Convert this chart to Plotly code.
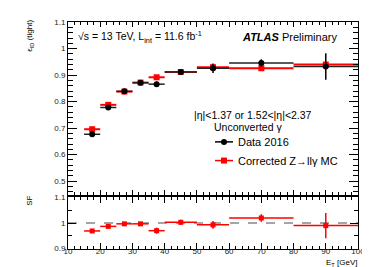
import plotly.graph_objects as go

# ---- data ----
bin_lo = [15, 20, 25, 30, 35, 40, 50, 60, 80]
bin_hi = [20, 25, 30, 35, 40, 50, 60, 80, 100]
eff_data = [0.677, 0.778, 0.839, 0.871, 0.866, 0.912, 0.926, 0.946, 0.933]
eff_data_err = [0.005, 0.005, 0.004, 0.004, 0.010, 0.006, 0.018, 0.014, 0.050]
eff_mc = [0.696, 0.788, 0.838, 0.872, 0.892, 0.912, 0.930, 0.926, 0.940]
eff_mc_err = [0.003, 0.003, 0.003, 0.003, 0.004, 0.004, 0.006, 0.006, 0.010]
sf = [0.969, 0.987, 0.997, 0.997, 0.970, 1.003, 0.993, 1.020, 0.990]
sf_err = [0.004, 0.004, 0.004, 0.007, 0.012, 0.010, 0.015, 0.015, 0.050]
x_range = [10, 100]
legend_names = ["Data 2016", "Corrected Z\u2192ll\u03b3 MC"]

centers = [(a + b) / 2 for a, b in zip(bin_lo, bin_hi)]
half_w = [(b - a) / 2 for a, b in zip(bin_lo, bin_hi)]

RED = "#ff0000"
FONT = "Liberation Sans"

fig = go.Figure()

# MC (drawn first)
fig.add_trace(go.Scatter(
    x=centers, y=eff_mc, mode="markers", showlegend=False,
    marker=dict(symbol="square", color=RED, size=6),
    error_x=dict(type="data", array=half_w, color=RED, thickness=2, width=0),
    error_y=dict(type="data", array=eff_mc_err, color=RED, thickness=2, width=0),
    xaxis="x", yaxis="y"))
# Data
fig.add_trace(go.Scatter(
    x=centers, y=eff_data, mode="markers", showlegend=False,
    marker=dict(symbol="circle", color="black", size=6),
    error_x=dict(type="data", array=half_w, color="#222222", thickness=1.5, width=0),
    error_y=dict(type="data", array=eff_data_err, color="black", thickness=1.5, width=0),
    xaxis="x", yaxis="y"))
# SF
fig.add_trace(go.Scatter(
    x=centers, y=sf, mode="markers", showlegend=False,
    marker=dict(symbol="square", color=RED, size=5),
    error_x=dict(type="data", array=half_w, color=RED, thickness=1.5, width=0),
    error_y=dict(type="data", array=sf_err, color=RED, thickness=1.5, width=0),
    xaxis="x2", yaxis="y2"))

fig.add_shape(type="line", xref="x2", yref="y2", x0=x_range[0], x1=x_range[1], y0=1, y1=1,
              line=dict(color="#888888", width=1.5, dash="dash"), layer="below")

# ---- manual legend (paper coords) ----
L_PX, T_PX, W_PX, H_PX = 60, 10, 290, 231
def px(xp):
    return (xp - L_PX) / W_PX
def py(yp):
    return (T_PX + H_PX - yp) / H_PX

leg_rows = [132, 151]
leg_colors = ["black", RED]
leg_syms = ["circle", "rect"]
for row, col, sym, name in zip(leg_rows, leg_colors, leg_syms, legend_names):
    fig.add_shape(type="line", xref="paper", yref="paper", x0=px(207), x1=px(225), y0=py(row), y1=py(row),
                  line=dict(color=col, width=1.5))
    fig.add_shape(type=sym, xref="paper", yref="paper", xsizemode="pixel", ysizemode="pixel",
                  xanchor=px(216), yanchor=py(row), x0=-3, x1=3, y0=-3, y1=3,
                  line=dict(color=col, width=0), fillcolor=col)
    fig.add_annotation(text=name, xref="paper", yref="paper", x=px(228), y=py(row),
                       xanchor="left", yanchor="middle", showarrow=False,
                       font=dict(family=FONT, size=11, color="black"))

axis_common = dict(showline=True, linecolor="black", linewidth=1, mirror="ticks",
                   ticks="inside", tickcolor="black", showgrid=False, zeroline=False,
                   tickfont=dict(family=FONT, size=8, color="#222"))

fig.update_layout(
    width=370, height=267,
    margin=dict(l=60, r=20, t=10, b=26),
    paper_bgcolor="white", plot_bgcolor="white",
    font=dict(family=FONT, color="black"),
    showlegend=False,
    xaxis=dict(domain=[0, 1], range=x_range, anchor="y", matches="x2", showticklabels=False,
               dtick=10, ticklen=5, minor=dict(dtick=2, ticklen=3, ticks="inside", tickcolor="black"),
               **axis_common),
    yaxis=dict(domain=[0.238, 1], range=[0.448, 1.1005], anchor="x", ticklen=9,
               tickvals=[0.5, 0.6, 0.7, 0.8, 0.9, 1.0, 1.1], ticktext=["0.5", "0.6", "0.7", "0.8", "0.9", "1", "1.1"],
               minor=dict(dtick=0.02, ticklen=5, ticks="inside", tickcolor="black"),
               **axis_common),
    xaxis2=dict(domain=[0, 1], range=x_range, anchor="y2", dtick=10, ticklen=6,
                ticklabelstandoff=-6,
                minor=dict(dtick=2, ticklen=3, ticks="inside", tickcolor="black"),
                **axis_common),
    yaxis2=dict(domain=[0, 0.229], range=[0.898, 1.1025], anchor="x2", ticklen=8,
                tickvals=[0.9, 1.0, 1.1], ticktext=["0.9", "1", "1.1"],
                minor=dict(dtick=0.05, ticklen=4, ticks="inside", tickcolor="black"),
                **axis_common),
)

ann = dict(showarrow=False, xref="paper", yref="paper")
fig.add_annotation(text="\u221as = 13 TeV, L<sub>int</sub> = 11.6 fb<sup>-1</sup>",
                   x=px(68), y=py(25), xanchor="left", yanchor="middle",
                   font=dict(family=FONT, size=10.5, color="black"), **ann)
fig.add_annotation(text="<b><i>ATLAS</i></b> Preliminary",
                   x=px(331), y=py(25), xanchor="right", yanchor="middle",
                   font=dict(family=FONT, size=11, color="black"), **ann)
fig.add_annotation(text="|\u03b7|<1.37 or 1.52<|\u03b7|<2.37",
                   x=px(245), y=py(105), xanchor="center", yanchor="middle",
                   font=dict(family=FONT, size=10.5, color="black"), **ann)
fig.add_annotation(text="Unconverted \u03b3",
                   x=px(240), y=py(117), xanchor="center", yanchor="middle",
                   font=dict(family=FONT, size=10.5, color="black"), **ann)
fig.add_annotation(text="\u03b5<sub>ID</sub> (tight)",
                   x=px(22), y=py(24), xanchor="center", yanchor="middle", textangle=-90,
                   font=dict(family=FONT, size=8, color="black"), **ann)
fig.add_annotation(text="SF",
                   x=px(22), y=py(192), xanchor="center", yanchor="middle", textangle=-90,
                   font=dict(family=FONT, size=8, color="black"), **ann)
fig.add_annotation(text="E<sub>T</sub> [GeV]",
                   x=px(351), y=py(255), xanchor="right", yanchor="middle",
                   font=dict(family=FONT, size=8, color="black"), **ann)

fig.write_html("out.html")
